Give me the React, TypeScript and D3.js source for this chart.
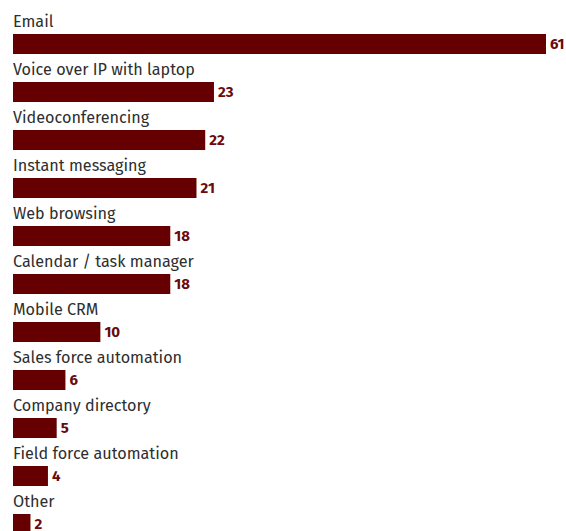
import React from "react";
import * as d3 from "d3";

const categories = [
  "Email",
  "Voice over IP with laptop",
  "Videoconferencing",
  "Instant messaging",
  "Web browsing",
  "Calendar / task manager",
  "Mobile CRM",
  "Sales force automation",
  "Company directory",
  "Field force automation",
  "Other",
];
const values = [61, 23, 22, 21, 18, 18, 10, 6, 5, 4, 2];

const W = 566;
const H = 531;

export default function App() {
  const x = d3.scaleLinear().domain([0, 61]).range([13, 546]);
  const y = d3
    .scaleBand<string>()
    .domain(categories)
    .range([10, 10 + categories.length * 48])
    .padding(0);
  const font = "'Fira Sans', 'Noto Sans', sans-serif";
  return (
    <svg
      width={W}
      height={H}
      style={{ position: "absolute", left: 0, top: 0, background: "#fff" }}
    >
      {categories.map((c, i) => {
        const top = (y(c) as number) + 24;
        return (
          <g key={c}>
            <text
              x={13}
              y={top - 7}
              fontFamily={font}
              fontSize={16.2}
              fill="#2e2e2e"
            >
              {c}
            </text>
            <rect x={x(0)} y={top} width={x(values[i]) - x(0)} height={20} fill="#660000" />
            <text
              x={x(values[i]) + 4}
              y={top + 15}
              fontFamily={font}
              fontSize={15}
              fontWeight="bold"
              fill="#6b0a0a"
            >
              {values[i]}
            </text>
          </g>
        );
      })}
    </svg>
  );
}
